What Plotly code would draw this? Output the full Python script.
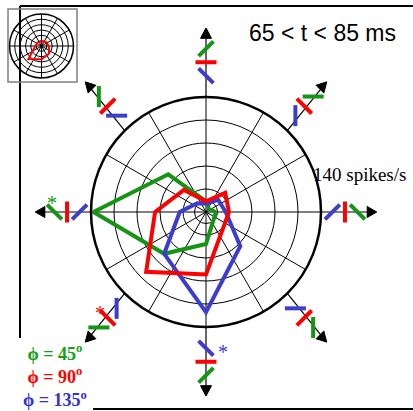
import numpy as np
import plotly.graph_objects as go

W, H = 413, 411

# ---- data -------------------------------------------------------------
directions = [0, 45, 90, 135, 180, 225, 270, 315]          # motion direction (deg)
phi_values = [45, 90, 135]                                  # bar orientation re: motion
rate_phi45 = [12, 5, 13, 65, 137, 72, 39, 13]               # spikes/s, 65-85 ms
rate_phi90 = [28, 33, 13, 38, 62, 103, 76, 29]
rate_phi135 = [24, 21, 10, 15, 32, 72, 122, 59]
inset_rate_phi90 = [32, 26, 20, 23, 27, 81, 58, 47]         # inset polar, phi = 90
significant = [(180, 45), (225, 90), (270, 135)]            # (direction, phi) marked with *
ring_values = [14, 28, 56, 84, 112]
max_rate = 140

colors = {45: "rgb(20,150,20)", 90: "rgb(255,0,0)", 135: "rgb(60,60,205)"}
text_colors = {45: "rgb(20,160,20)", 90: "rgb(255,0,0)", 135: "rgb(50,50,210)"}
rates = {45: rate_phi45, 90: rate_phi90, 135: rate_phi135}

# ---- layout geometry (pixels) ----------------------------------------
cx, cy, R = 206, 212, 115          # main polar
icx, icy, iR = 41.5, 46, 32        # inset polar
sx, sy = 0.965, 1.04               # ornament ring is slightly taller than wide
bar_dist = {135: 131, 90: 144, 45: 157}
tip_dist, head_len, head_half = 177, 10, 5.5
bar_len = 21
star_offset = {45: (-3, -14), 90: (-8, -10), 135: (17, -1)}


def polar_domain(x, y, r):
    return dict(x=[(x - r) / W, (x + r) / W], y=[(H - y - r) / H, (H - y + r) / H])


def ring_pos(d, ang):
    a = np.radians(ang)
    return cx + d * sx * np.cos(a), cy - d * sy * np.sin(a)


fig = go.Figure()

# ---- polygons in the main polar ----------------------------------------
for phi in [45, 135, 90]:
    r = rates[phi]
    fig.add_trace(go.Scatterpolar(
        r=r + [r[0]], theta=directions + [directions[0]], mode="lines",
        line=dict(color=colors[phi], width=4), subplot="polar", hoverinfo="skip"))

# inset
fig.add_trace(go.Scatterpolar(
    r=inset_rate_phi90 + [inset_rate_phi90[0]], theta=directions + [directions[0]],
    mode="lines", line=dict(color=colors[90], width=2), subplot="polar2", hoverinfo="skip"))

# ---- direction arrows with orientation bars -----------------------------
shaft_x, shaft_y, head_x, head_y = [], [], [], []
for th in directions:
    a = np.radians(th)
    shaft_x += [cx + R * np.cos(a), ring_pos(tip_dist - 2, th)[0], None]
    shaft_y += [cy - R * np.sin(a), ring_pos(tip_dist - 2, th)[1], None]
    tx, ty = ring_pos(tip_dist, th)
    bx, by = ring_pos(tip_dist - head_len, th)
    px, py = -np.sin(a), -np.cos(a)   # screen-space perpendicular
    head_x += [tx, bx + head_half * px, bx - head_half * px, tx, None]
    head_y += [ty, by + head_half * py, by - head_half * py, ty, None]

fig.add_trace(go.Scatter(x=shaft_x, y=shaft_y, mode="lines",
                         line=dict(color="black", width=1.2), hoverinfo="skip"))
fig.add_trace(go.Scatter(x=head_x, y=head_y, mode="lines", fill="toself",
                         fillcolor="black", line=dict(color="black", width=1), hoverinfo="skip"))

for phi in phi_values:
    xs, ys = [], []
    for th in directions:
        mx, my = ring_pos(bar_dist[phi], th)
        o = np.radians(th - phi)
        dx, dy = 0.5 * bar_len * np.cos(o), -0.5 * bar_len * np.sin(o)
        xs += [mx - dx, mx + dx, None]
        ys += [my - dy, my + dy, None]
    fig.add_trace(go.Scatter(x=xs, y=ys, mode="lines",
                             line=dict(color=colors[phi], width=4), hoverinfo="skip"))

annotations = []
for th, phi in significant:
    mx, my = ring_pos(bar_dist[phi], th)
    ox, oy = star_offset[phi]
    annotations.append(dict(x=mx + ox, y=my + oy + 5, xref="x", yref="y", text="*",
                            showarrow=False, xanchor="center", yanchor="middle",
                            font=dict(family="Liberation Serif", size=20, color=colors[phi])))

# ---- texts -------------------------------------------------------------
annotations.append(dict(x=322, y=33, xref="x", yref="y", text="65 &lt; t &lt; 85 ms",
                        showarrow=False, xanchor="center", yanchor="middle",
                        font=dict(family="Liberation Sans", size=23, color="black")))
annotations.append(dict(x=359, y=174, xref="x", yref="y", text=f"{max_rate} spikes/s",
                        showarrow=False, xanchor="center", yanchor="middle",
                        font=dict(family="Liberation Serif", size=19, color="black")))

# phi key: one centred block, one coloured line per orientation
key_lines = [f"<span style='color:{text_colors[p]}'>ϕ = {p}<sup>o</sup></span>" for p in phi_values]
annotations.append(dict(x=55, y=375, xref="x", yref="y",
                        text="<b>" + "<br>".join(key_lines) + "</b>",
                        showarrow=False, xanchor="center", yanchor="middle", align="center",
                        font=dict(family="Liberation Serif", size=18, color="black")))

shapes = [
    dict(type="line", xref="x", yref="y", x0=20, y0=6, x1=W, y1=6, line=dict(color="black", width=2)),
    dict(type="line", xref="x", yref="y", x0=20, y0=6, x1=20, y1=338, line=dict(color="black", width=2)),
    dict(type="line", xref="x", yref="y", x0=93, y0=409, x1=W, y1=409, line=dict(color="black", width=2)),
    dict(type="rect", xref="x", yref="y", x0=8, y0=9, x1=77, y1=82, line=dict(color="gray", width=1.5)),
]

grid = dict(showticklabels=False, ticks="", gridcolor="black", gridwidth=1)
fig.update_layout(
    width=W, height=H, autosize=False, margin=dict(l=0, r=0, t=0, b=0),
    paper_bgcolor="white", plot_bgcolor="rgba(0,0,0,0)", showlegend=False,
    xaxis=dict(range=[0, W], domain=[0, 1], visible=False, fixedrange=True),
    yaxis=dict(range=[H, 0], domain=[0, 1], visible=False, fixedrange=True),
    polar=dict(
        domain=polar_domain(cx, cy, R), bgcolor="rgba(0,0,0,0)",
        radialaxis=dict(range=[0, max_rate], tickvals=ring_values, showline=False, **grid),
        angularaxis=dict(tickvals=list(range(0, 360, 30)), direction="counterclockwise",
                         rotation=0, showline=True, linecolor="black", linewidth=2.5, **grid),
    ),
    polar2=dict(
        domain=polar_domain(icx, icy, iR), bgcolor="white",
        radialaxis=dict(range=[0, max_rate], tickvals=[23, 47, 70, 93, 117], showline=False,
                        showticklabels=False, ticks="", gridcolor="black", gridwidth=0.8),
        angularaxis=dict(tickvals=list(range(0, 360, 30)), direction="counterclockwise",
                         rotation=0, showline=True, linecolor="black", linewidth=1.5,
                         showticklabels=False, ticks="", gridcolor="black", gridwidth=0.8),
    ),
    annotations=annotations, shapes=shapes,
)

fig.write_html("out.html")
